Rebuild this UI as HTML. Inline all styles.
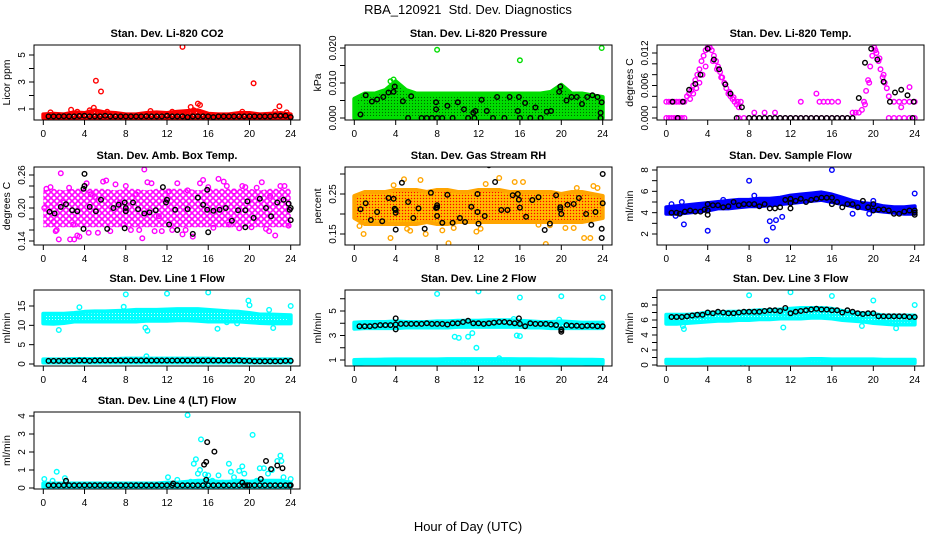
<!DOCTYPE html>
<html><head><meta charset="utf-8"><style>
html,body{margin:0;padding:0;background:#fff;}
svg{display:block;font-family:"Liberation Sans",sans-serif;}
</style></head><body>
<svg id="chart" width="936" height="540" viewBox="0 0 936 540" xmlns="http://www.w3.org/2000/svg">
<defs>
<pattern id="p-red" width="3" height="3" patternUnits="userSpaceOnUse"><rect width="3" height="3" fill="#f00"/><circle cx="1.5" cy="1.5" r="0.6" fill="#fff"/></pattern>
<pattern id="p-green" width="3" height="3" patternUnits="userSpaceOnUse"><rect width="3" height="3" fill="#0d0"/><circle cx="1.5" cy="1.5" r="0.6" fill="#060"/></pattern>
<pattern id="p-mag" width="6" height="6" patternUnits="userSpaceOnUse"><circle cx="0" cy="0" r="2.2" fill="none" stroke="#f0f" stroke-width="1.3"/><circle cx="6" cy="0" r="2.2" fill="none" stroke="#f0f" stroke-width="1.3"/><circle cx="0" cy="6" r="2.2" fill="none" stroke="#f0f" stroke-width="1.3"/><circle cx="6" cy="6" r="2.2" fill="none" stroke="#f0f" stroke-width="1.3"/><circle cx="3" cy="3" r="2.2" fill="none" stroke="#f0f" stroke-width="1.3"/></pattern>
<pattern id="p-orange" width="3" height="3" patternUnits="userSpaceOnUse"><rect width="3" height="3" fill="#ffa500"/><rect x="0" y="0" width="1" height="1" fill="#f00"/><rect x="1.5" y="1.5" width="1" height="1" fill="#ff0"/></pattern>
<pattern id="p-blue" width="3" height="3" patternUnits="userSpaceOnUse"><rect width="3" height="3" fill="#00f"/></pattern>
<pattern id="p-cyan" width="3" height="3" patternUnits="userSpaceOnUse"><rect width="3" height="3" fill="#0ff"/><circle cx="1.5" cy="1.5" r="0.5" fill="#fff"/></pattern>
</defs>
</svg>
<script>
// ---------- DATA ----------
const bandHours=[0,1,2,3,4,5,6,7,8,9,10,11,12,13,14,15,16,17,18,19,20,21,22,23,24];
const halfHours=[0.5,1,1.5,2,2.5,3,3.5,4,4.5,5,5.5,6,6.5,7,7.5,8,8.5,9,9.5,10,10.5,11,11.5,12,12.5,13,13.5,14,14.5,15,15.5,16,16.5,17,17.5,18,18.5,19,19.5,20,20.5,21,21.5,22,22.5,23,23.5,24];
const xTicks=[0,4,8,12,16,20,24];

// CO2
const co2Lo=[0.35,0.35,0.35,0.35,0.35,0.35,0.35,0.35,0.35,0.35,0.35,0.35,0.35,0.35,0.35,0.35,0.35,0.35,0.35,0.35,0.35,0.35,0.35,0.35,0.35];
const co2Hi=[0.6,0.65,0.6,0.75,0.7,0.9,0.75,0.7,0.6,0.6,0.7,0.75,0.7,0.8,0.85,0.9,0.65,0.6,0.6,0.7,0.7,0.6,0.65,0.7,0.6];
const co2PtX=[0.7,2.7,3.3,4.5,4.9,5.1,5.6,6.2,10.4,12.5,13.5,14.3,14.6,15.0,15.2,19.3,20.4,22.5,22.9,23.6];
const co2PtY=[0.75,0.95,0.8,0.9,1.1,3.1,2.3,0.8,0.85,0.8,5.6,1.15,0.9,1.4,1.3,0.8,2.9,0.8,1.2,0.75];
const co2BlkY=[0.45,0.45,0.45,0.47,0.45,0.45,0.48,0.5,0.45,0.45,0.45,0.5,0.45,0.45,0.45,0.45,0.45,0.45,0.45,0.47,0.45,0.45,0.45,0.5,0.45,0.45,0.45,0.4,0.45,0.45,0.45,0.45,0.4,0.45,0.45,0.45,0.45,0.45,0.45,0.45,0.45,0.45,0.45,0.45,0.5,0.5,0.5,0.4];

// Pressure
const prsLo=[0,0,0,0,0,0,0,0,0,0,0,0,0,0,0,0,0,0,0,0,0,0,0,0,0];
const prsHi=[0.0055,0.007,0.007,0.008,0.0105,0.008,0.007,0.007,0.007,0.007,0.007,0.007,0.007,0.007,0.007,0.007,0.007,0.007,0.007,0.0075,0.0095,0.007,0.007,0.0065,0.006];
const prsPtX=[8,16,23.9,3.5,3.8,0.2,0.5];
const prsPtY=[0.0195,0.0165,0.020,0.0105,0.011,0.002,0.004];
const prsBlkX=[0.6,1.1,1.7,2.2,2.8,3.3,3.8,3.9,4.7,5.2,5.5,6.5,7.0,7.5,7.9,7.9,8.0,8.5,9.0,9.5,10.0,10.6,11.0,11.5,11.6,11.7,12.3,12.8,13.4,13.8,14.5,15.0,15.8,15.9,16,16.5,17,17.5,18,18.6,19,19.8,19.9,20.5,21,21.5,22,22.5,23,23.5,23.8,23.9,23.8];
const prsBlkY=[0.001,0.0065,0.0047,0.0053,0.006,0.0073,0.0075,0.009,0.0048,0,0.0062,0,0,0,0.0045,0.0025,0,0,0.0035,0,0.0045,0.0025,0,0.0015,0,0.002,0.0052,0.002,0,0.006,0,0.006,0.002,0.006,0,0.0043,0,0.003,0,0.0018,0.002,0.0075,0.009,0.005,0.006,0.006,0.004,0.006,0.0065,0.006,0.0015,0.0045,0];

// Li-820 Temp
const tmpPtX=[0,0.25,0.5,0.75,1,1.25,1.5,1.75,0,0.25,0.5,0.75,1,1.25,1.5,1.75,2,2.2,2.4,2.6,2.8,3,3.2,3.4,3.6,3.8,4,2.3,2.6,2.9,3.2,3.5,3.8,4.2,4.4,4.6,4.8,5,5.2,5.4,5.6,5.8,6,6.2,6.4,6.6,6.8,7,7.2,4.5,4.9,5.3,5.7,6.1,6.5,6.9,7,7.5,8,8.5,9,9.5,10,10.5,11,11.5,12,12.5,13,13.5,14,14.5,15,15.5,16,16.5,17,17.5,18,8.5,9.5,10.5,13,14.5,14.8,15.2,15.6,16,16.6,18,18.3,18.6,18.9,19.1,19.3,19.5,19.7,19.9,20.1,20.3,20.5,20.7,20.9,21.1,21.3,19.2,19.6,20.2,20.6,21,21.5,22,22.5,23,23.5,24,21.5,22,22.5,23,23.5,24,23.5,22.7];
const tmpPtY=[0.003,0.003,0.003,0.003,0.003,0.003,0.003,0.003,0,0,0,0,0,0,0,0,0.004,0.0045,0.005,0.006,0.007,0.008,0.009,0.0105,0.0115,0.0125,0.013,0.0035,0.0045,0.0055,0.0065,0.008,0.0095,0.013,0.0125,0.0115,0.0105,0.0095,0.0085,0.0075,0.0065,0.0055,0.0045,0.004,0.0035,0.003,0.0025,0.002,0.003,0.0105,0.009,0.0075,0.0062,0.0048,0.0038,0.003,0,0,0,0,0,0,0,0,0,0,0,0,0,0,0,0,0,0,0,0,0,0,0,0.001,0.001,0.001,0.003,0.0045,0.003,0.003,0.003,0.003,0.003,0.001,0.001,0.001,0.0015,0.003,0.005,0.007,0.0095,0.0115,0.013,0.012,0.0105,0.009,0.0075,0.0065,0.0055,0.0025,0.0065,0.0125,0.011,0.008,0.004,0.003,0.003,0.003,0.003,0.003,0,0,0,0,0,0,0.0057,0.002];
const tmpBlkX=[0.6,1.1,1.6,2.2,2.8,3.3,4,4.6,5.1,5.7,6.2,6.8,7.3,8,8.5,9,9.5,10,10.5,11,11.5,12,12.5,13,13.5,14,14.5,15,15.5,16,16.5,17,17.5,18,18.6,19.2,19.8,20.4,21,21.6,22.1,22.7,23.3,23.9,23.8];
const tmpBlkY=[0.003,0,0.003,0.0052,0.0063,0.008,0.0128,0.0108,0.009,0.0062,0.0045,0,0.002,0,0,0,0,0,0,0,0,0,0,0,0,0,0,0,0,0,0,0,0,0,0.0037,0.0102,0.0128,0.0108,0.0067,0.003,0.0047,0.0052,0.0042,0.003,0];

// Amb box temp
const ambLo=[0.165,0.165,0.165,0.165,0.165,0.165,0.165,0.165,0.165,0.165,0.165,0.165,0.165,0.165,0.165,0.165,0.165,0.165,0.165,0.165,0.165,0.165,0.165,0.165,0.165];
const ambHi=[0.232,0.235,0.232,0.235,0.235,0.235,0.235,0.232,0.235,0.235,0.232,0.235,0.235,0.235,0.235,0.232,0.235,0.235,0.235,0.235,0.235,0.232,0.235,0.235,0.235];
const ambPtX=[0.3,0.7,1,1.2,1.5,1.7,2.0,2.5,2.6,3.0,3.3,3.5,4.2,4.6,5.0,5.3,5.8,6.5,7.0,7.4,8,8.5,9.0,9.6,9.8,10.1,10.5,11.2,11.5,12.2,12.5,13,13.5,14,14.5,15.5,16,16.5,17,17.5,18,18.5,19,19.6,20.2,20.7,21.2,21.6,22,22.5,23,23.4,23.8,0.1,1.3,2.9,4.4,6.1,7.8,9.3,10.8,13.8,15.2,17.8,19.3,21.9];
const ambPtY=[0.235,0.238,0.175,0.158,0.143,0.263,0.21,0.237,0.143,0.143,0.15,0.148,0.245,0.225,0.22,0.155,0.248,0.158,0.243,0.21,0.24,0.16,0.225,0.145,0.27,0.247,0.245,0.185,0.158,0.23,0.16,0.245,0.152,0.232,0.148,0.251,0.238,0.164,0.253,0.248,0.17,0.23,0.163,0.238,0.165,0.237,0.247,0.162,0.222,0.15,0.24,0.24,0.168,0.2,0.16,0.17,0.155,0.25,0.17,0.16,0.158,0.16,0.245,0.24,0.24,0.158];
const ambBlkX=[0.6,1.1,1.7,2.2,2.8,3.3,3.9,4.0,4.0,3.9,4.5,5.1,5.6,6.2,6.8,7.3,7.9,7.9,8.0,8.0,8.7,9.2,9.8,10.3,10.9,11.6,11.9,12.0,12.2,12.8,13.0,14.0,14.5,15.0,15.5,15.9,16.0,15.9,16.5,17.1,17.7,18.3,18.9,19.6,19.6,19.8,20.4,21.0,21.6,22.1,22.7,23.3,23.8,23.9,24,24];
const ambBlkY=[0.193,0.19,0.202,0.207,0.196,0.194,0.235,0.24,0.262,0.162,0.202,0.194,0.215,0.162,0.2,0.206,0.21,0.163,0.2,0.194,0.21,0.198,0.19,0.192,0.196,0.238,0.21,0.215,0.17,0.197,0.16,0.198,0.153,0.219,0.206,0.197,0.156,0.233,0.195,0.197,0.2,0.177,0.196,0.196,0.165,0.212,0.182,0.217,0.2,0.185,0.21,0.215,0.208,0.197,0.2,0.178];

// Gas stream RH
const rhLo=[0.19,0.175,0.175,0.175,0.175,0.175,0.175,0.18,0.175,0.175,0.18,0.18,0.18,0.18,0.18,0.18,0.18,0.18,0.18,0.18,0.18,0.18,0.18,0.185,0.19];
const rhHi=[0.245,0.255,0.255,0.255,0.26,0.26,0.26,0.255,0.26,0.26,0.255,0.255,0.26,0.26,0.26,0.255,0.255,0.255,0.255,0.255,0.25,0.255,0.255,0.25,0.245];
const rhPtX=[0.5,0.9,3.3,3.5,3.8,4.8,5.1,5.4,6.4,6.9,8.5,9.1,9.6,11.8,12.2,12.7,14.0,15.5,16.3,17.8,18.5,18.9,20.4,21.2,21.5,22.2,22.8,23.1,23.5];
const rhPtY=[0.17,0.15,0.18,0.14,0.272,0.287,0.163,0.158,0.285,0.15,0.159,0.127,0.165,0.156,0.163,0.275,0.29,0.28,0.28,0.173,0.125,0.172,0.165,0.165,0.265,0.14,0.14,0.27,0.265];
const rhBlkX=[0.6,1.1,1.6,2.2,2.7,3.3,3.8,4.0,3.9,4.0,4.0,4.6,5.2,5.7,6.2,6.8,7.4,7.9,8,8.0,8.0,8.5,9.0,9.5,10.2,10.7,11.3,11.9,11.9,12,12.6,13.0,13.6,14.2,14.8,15.3,15.8,15.9,16.0,16.6,17.2,17.8,18.4,18.9,19.5,19.9,20.0,19.9,20.6,21.2,21.7,22.4,22.9,23.3,23.9,23.9,24,24.0];
const rhBlkY=[0.212,0.227,0.185,0.205,0.182,0.24,0.238,0.21,0.213,0.203,0.161,0.278,0.23,0.19,0.214,0.163,0.253,0.215,0.222,0.217,0.195,0.178,0.248,0.178,0.19,0.18,0.218,0.25,0.205,0.176,0.195,0.322,0.28,0.21,0.21,0.247,0.25,0.236,0.216,0.193,0.235,0.242,0.16,0.176,0.247,0.212,0.2,0.217,0.223,0.225,0.24,0.2,0.173,0.205,0.163,0.14,0.3,0.227];

// Sample flow
const sfLo=[3.9,3.9,4.0,4.1,4.2,4.4,4.4,4.5,4.6,4.6,4.7,4.8,4.9,5.0,5.1,5.2,5.0,4.8,4.6,4.4,4.2,4.1,4.0,3.9,3.9];
const sfHi=[4.5,4.6,4.7,4.8,4.9,5.0,5.1,5.2,5.2,5.3,5.3,5.4,5.6,5.7,5.8,5.9,5.7,5.4,5.1,4.9,4.8,4.6,4.5,4.5,4.6];
const sfPtX=[0.5,1.5,1.7,4,8,9.7,10,10.3,10.6,11.2,16,8.5,18,20,24,0.9,5.5,19.6];
const sfPtY=[4.8,5.0,2.9,2.3,7.0,1.4,3.2,2.6,3.3,3.6,8.0,5.6,3.9,5.1,5.8,3.7,5.2,3.9];
const sfBlkX=[0.5,1,1.3,1.8,2.3,2.8,3.3,3.7,4,4,4,4.5,5,5.5,6,6.5,7,7.5,8,8.5,9,9.5,10,10.5,11,11.5,12,12,12,12.5,13,13.5,14,14.5,15,15.5,16,16,16.5,17,17.5,18,18.5,19,19.5,20,20,20.5,21,21.5,22,22.5,23,23.5,24,24,24];
const sfBlkY=[4.0,4.0,3.9,4.1,4.2,4.1,4.1,4.3,4.8,3.8,4.2,4.7,4.7,4.5,4.6,5.0,4.7,4.8,4.8,4.8,4.6,4.8,4.4,4.4,4.5,5.2,4.4,4.9,5.3,5.1,5.3,5.0,5.2,5.3,5.4,5.4,5.4,4.8,5.0,4.5,4.8,4.8,4.5,5.1,4.5,4.8,4.2,4.3,4.3,4.2,3.9,3.9,4.1,4.2,4.0,3.8,4.2];

// Line 1 flow
const l1Lo=[10.5,10.4,10.6,11,11,11,11,11,11,11,11.2,11.2,11.2,11.3,11.3,11.2,11,11,11,11,10.8,10.6,10.5,10.5,10.5];
const l1Hi=[13,13,13,13.2,13.5,13.6,13.6,13.7,13.8,14,14,14,14.1,14.2,14.2,14.2,14,13.8,13.6,13.5,13.2,12.8,12.8,12.7,12.6];
const l1Lo2=[0.4,0.4,0.4,0.4,0.4,0.4,0.4,0.4,0.4,0.4,0.4,0.4,0.4,0.4,0.4,0.4,0.4,0.4,0.4,0.4,0.4,0.4,0.4,0.4,0.4];
const l1Hi2=[1.2,1.2,1.2,1.3,1.3,1.3,1.3,1.3,1.4,1.4,1.4,1.4,1.4,1.4,1.4,1.4,1.4,1.3,1.3,1.3,1.2,1.2,1.2,1.2,1.2];
const l1PtX=[8,12,16,7.8,3.5,1.5,9.9,10.1,16.9,19.9,20,24,22.3,21.9,0.1,10,18.8,17.8];
const l1PtY=[18,18.2,18.5,14.8,14.7,8.8,9.4,8.6,9.1,16.4,15.2,15,9.3,14,0.8,2,10.5,10.8];
const l1BlkY=[0.8,0.8,0.8,0.8,0.8,0.8,0.9,0.9,0.8,0.9,0.9,0.9,0.9,0.9,0.9,0.9,0.9,0.9,0.9,0.9,0.9,0.9,0.9,0.9,0.9,0.9,0.9,0.9,0.9,0.9,0.9,0.9,0.9,0.9,0.9,0.9,0.9,0.9,0.8,0.8,0.7,0.7,0.7,0.7,0.7,0.7,0.8,0.8];

// Line 2 flow
const l2Lo=[3.55,3.6,3.6,3.6,3.6,3.65,3.65,3.65,3.65,3.65,3.7,3.7,3.7,3.7,3.7,3.7,3.7,3.65,3.65,3.6,3.6,3.6,3.6,3.6,3.6];
const l2Hi=[4.05,4.1,4.1,4.1,4.15,4.1,4.1,4.1,4.15,4.15,4.2,4.2,4.2,4.25,4.25,4.25,4.2,4.15,4.1,4.1,4.15,4.1,4.05,4.05,4.05];
const l2Lo2=[0.7,0.72,0.72,0.72,0.74,0.74,0.74,0.74,0.74,0.74,0.74,0.74,0.74,0.74,0.74,0.74,0.74,0.74,0.74,0.74,0.72,0.72,0.72,0.7,0.7];
const l2Hi2=[1.0,1.02,1.02,1.04,1.05,1.05,1.05,1.05,1.05,1.07,1.07,1.07,1.07,1.07,1.07,1.07,1.06,1.06,1.05,1.05,1.03,1.03,1.02,1.02,1.0];
const l2PtX=[8,12,16,20,24,9.7,10.1,11,11.4,11.8,15.7,16,14,15.4,19.8];
const l2PtY=[6.4,6.6,6.1,6.2,6.1,2.9,2.8,2.9,3.2,2.0,3.0,2.95,1.15,4.35,4.3];
const l2BlkY=[3.75,3.75,3.75,3.8,3.85,3.85,3.85,3.9,3.95,3.95,3.95,3.95,3.95,4.0,3.95,3.95,3.95,3.9,4.0,4.0,4.1,4.2,4.0,4.0,3.95,4.0,4.05,4.1,4.1,4.05,4.0,3.95,3.75,4.0,3.95,3.95,3.95,3.9,3.85,3.45,3.85,3.8,3.8,3.75,3.8,3.8,3.75,3.75];
const l2ExX=[4,4,15.9,20,20];
const l2ExY=[4.4,3.5,4.4,3.3,3.5];

// Line 3 flow
const l3Lo=[5.5,5.5,5.6,5.7,5.8,5.9,5.9,6,6,6.1,6.1,6.2,6.2,6.2,6.3,6.3,6.2,6,5.9,5.8,5.6,5.5,5.4,5.4,5.4];
const l3Hi=[6.7,6.7,6.7,6.8,7.0,7.0,7.1,7.1,7.2,7.3,7.3,7.4,7.5,7.6,7.6,7.6,7.5,7.2,7.0,6.9,6.8,6.6,6.6,6.6,6.6];
const l3Lo2=[0.25,0.25,0.25,0.25,0.25,0.25,0.25,0.25,0.25,0.25,0.25,0.25,0.25,0.25,0.25,0.25,0.25,0.25,0.25,0.25,0.25,0.25,0.25,0.25,0.25];
const l3Hi2=[0.7,0.7,0.7,0.7,0.75,0.75,0.75,0.75,0.75,0.75,0.75,0.75,0.75,0.75,0.8,0.8,0.75,0.75,0.75,0.75,0.75,0.7,0.7,0.7,0.7];
const l3PtX=[8,12,16,20,24,1.7,11.3,18.9,22.2,1.6,7.4];
const l3PtY=[9.3,9.7,9.2,8.6,8.0,4.8,5.0,5.2,4.9,5.2,0.1];
const l3BlkY=[6.4,6.4,6.4,6.5,6.6,6.7,6.7,7.0,6.9,7.1,7.0,6.9,6.9,7.0,7.1,7.1,7.1,7.1,7.2,7.3,7.3,7.2,7.6,6.9,7.1,7.2,7.3,7.4,7.5,7.4,7.4,7.3,7.3,7.0,7.3,7.1,6.9,6.8,6.9,6.9,6.5,6.5,6.5,6.5,6.5,6.5,6.4,6.4];

// Line 4 flow
const l4Lo=[0.05,0.05,0.05,0.05,0.05,0.05,0.05,0.05,0.05,0.05,0.05,0.05,0.05,0.05,0.05,0.05,0.05,0.05,0.05,0.05,0.05,0.05,0.05,0.05,0.05];
const l4Hi=[0.25,0.25,0.25,0.25,0.25,0.25,0.25,0.25,0.25,0.25,0.25,0.25,0.3,0.3,0.35,0.4,0.4,0.35,0.35,0.4,0.35,0.4,0.4,0.4,0.3];
const l4PtX=[0.1,0.9,1.3,2.1,14,15.3,14.6,14.8,15,15.2,15.7,16,17,18,18.2,18.5,19,19.3,19.5,20.3,20.7,21,21.4,21.8,22.2,22.7,23,23.1,23.3,24,12.1,13,14.3,16.4,17.4];
const l4PtY=[0.5,0.4,0.9,0.55,4.05,2.7,1.35,1.6,0.8,1.0,0.75,0.7,0.7,1.35,0.9,0.6,0.95,1.2,0.8,2.95,0.4,1.1,1.1,0.8,1.0,1.5,1.8,1.5,0.6,0.5,0.6,0.45,0.35,0.4,0.3];
const l4BlkY=[0.15,0.15,0.15,0.15,0.15,0.15,0.15,0.15,0.15,0.15,0.15,0.15,0.15,0.15,0.15,0.15,0.15,0.15,0.15,0.15,0.15,0.15,0.15,0.15,0.15,0.15,0.15,0.15,0.15,0.15,0.15,0.15,0.15,0.15,0.15,0.15,0.15,0.15,0.15,0.15,0.15,0.15,0.15,0.15,0.15,0.15,0.15,0.15];
const l4ExX=[2.2,12.6,15.6,15.8,15.8,15.9,16.6,19.3,19.8,21.1,21.6,22.1,22.7,23.2,23.9];
const l4ExY=[0.4,0.25,1.3,1.45,0.45,2.55,2.02,0.3,0.15,0.5,1.5,1.05,1.25,1.1,0.15];

// ---------- RENDER ----------
const NS='http://www.w3.org/2000/svg';
const svg=document.getElementById('chart');
const colL=[34,345,657], colR=[300,612,924];
const rowT=[45,167,290,412], rowB=[120,245,366,489];
function mk(tag,attrs,parent){const e=document.createElementNS(NS,tag);for(const k in attrs)e.setAttribute(k,attrs[k]);(parent||svg).appendChild(e);return e;}
function xScale(col){const x0=colL[col]+9.3, k=(colR[col]-colL[col]-18.6)/24;return h=>x0+h*k;}
function yScale(v1,p1,v2,p2){const k=(p2-p1)/(v2-v1);return v=>p1+(v-v1)*k;}

function panel(o){
  const g=mk('g',{});
  
  
  const L=colL[o.col],R=colR[o.col],T=rowT[o.row],B=rowB[o.row];
  const X=xScale(o.col), Y=yScale(o.yr[0],o.yr[1],o.yr[2],o.yr[3]);
  const clip=mk('clipPath',{id:'c-'+o.name},g);mk('rect',{x:L,y:T,width:R-L,height:B-T},clip);
  const plot=mk('g',{'clip-path':'url(#c-'+o.name+')'},g);
  
  
  const bs=(o.bandStroke===undefined)?4:o.bandStroke;
  (o.bands||[]).forEach(b=>{
    let d='';bandHours.forEach((h,i)=>{d+=(i?'L':'M')+X(h).toFixed(1)+' '+Y(b.hi[i]).toFixed(1);});
    for(let i=bandHours.length-1;i>=0;i--)d+='L'+X(bandHours[i]).toFixed(1)+' '+Y(b.lo[i]).toFixed(1);
    const p=mk('path',{d:d+'Z',fill:'url(#'+o.pat+')',stroke:bs?o.color:'none','stroke-width':bs,'stroke-linejoin':'round'},plot);
    
    
  });
  const pts=(xs,ys,col,nm)=>xs.forEach((x,i)=>{
    const c=mk('circle',{cx:X(x).toFixed(1),cy:Y(ys[i]).toFixed(1),r:2.3,fill:'none',stroke:col,'stroke-width':1.4},plot);
    
    
  });
  (o.pts||[]).forEach(s=>pts(s[0],s[1],o.color,o.name+'-point'));
  (o.blk||[]).forEach(s=>pts(s[0],s[1],'#000',o.name+'-mean-point'));
  const box=mk('rect',{x:L,y:T,width:R-L,height:B-T,fill:'none',stroke:'#000','stroke-width':1},g);
  
  
  xTicks.forEach(t=>{
    mk('line',{x1:X(t),x2:X(t),y1:B,y2:B+5,stroke:'#000'},g);
    const tx=mk('text',{x:X(t),y:B+17,'font-size':10,'text-anchor':'middle'},g);tx.textContent=t;
    
    
  });
  o.yticks.forEach(t=>{
    const y=Y(t);mk('line',{x1:L-5,x2:L,y1:y,y2:y,stroke:'#000'},g);
    const lab=o.ylabels.indexOf(t)>=0;
    if(lab){const tx=mk('text',{x:L-9,y:y,'font-size':10,'text-anchor':'middle',transform:'rotate(-90 '+(L-9)+' '+y+')'},g);tx.textContent=o.fmt?o.fmt(t):t;
      
      }
  });
  const yc=(T+B)/2;
  const yt=mk('text',{x:L-24,y:yc,'font-size':10.5,'text-anchor':'middle',transform:'rotate(-90 '+(L-24)+' '+yc+')'},g);yt.textContent=o.ylab;
  
  
  const tt=mk('text',{x:(L+R)/2,y:T-8,'font-size':11,'font-weight':'bold','text-anchor':'middle'},g);tt.textContent=o.title;
  
  
}

panel({name:'co2',col:0,row:0,title:'Stan. Dev. Li-820 CO2',ylab:'Licor ppm',color:'#f00',pat:'p-red',yr:[1,109,5,55],yticks:[1,2,3,4,5],ylabels:[1,3,5],
  bands:[{lo:co2Lo,hi:co2Hi}],pts:[[co2PtX,co2PtY]],blk:[[halfHours,co2BlkY]]});
panel({name:'pressure',col:1,row:0,title:'Stan. Dev. Li-820 Pressure',ylab:'kPa',color:'#0d0',pat:'p-green',yr:[0,118,0.02,48],yticks:[0,0.005,0.01,0.015,0.02],ylabels:[0,0.01,0.02],fmt:t=>t.toFixed(3),
  bands:[{lo:prsLo,hi:prsHi}],pts:[[prsPtX,prsPtY]],blk:[[prsBlkX,prsBlkY]]});
panel({name:'li820-temp',col:2,row:0,title:'Stan. Dev. Li-820 Temp.',ylab:'degrees C',color:'#f0f',pat:'p-mag',yr:[0,118,0.012,53],yticks:[0,0.002,0.004,0.006,0.008,0.01,0.012],ylabels:[0,0.006,0.012],fmt:t=>t.toFixed(3),
  pts:[[tmpPtX,tmpPtY]],blk:[[tmpBlkX,tmpBlkY]]});
panel({name:'amb-box-temp',col:0,row:1,title:'Stan. Dev. Amb. Box Temp.',ylab:'degrees C',color:'#f0f',pat:'p-mag',bandStroke:0,yr:[0.14,241,0.26,175],yticks:[0.14,0.16,0.18,0.2,0.22,0.24,0.26],ylabels:[0.14,0.2,0.26],fmt:t=>t.toFixed(2),
  bands:[{lo:ambLo,hi:ambHi}],pts:[[ambPtX,ambPtY]],blk:[[ambBlkX,ambBlkY]]});
panel({name:'gas-stream-rh',col:1,row:1,title:'Stan. Dev. Gas Stream RH',ylab:'percent',color:'#ffa500',pat:'p-orange',yr:[0.15,234,0.25,194],yticks:[0.15,0.2,0.25,0.3],ylabels:[0.15,0.25],fmt:t=>t.toFixed(2),
  bands:[{lo:rhLo,hi:rhHi}],pts:[[rhPtX,rhPtY]],blk:[[rhBlkX,rhBlkY]]});
panel({name:'sample-flow',col:2,row:1,title:'Stan. Dev. Sample Flow',ylab:'ml/min',color:'#00f',pat:'p-blue',yr:[2,234,8,170],yticks:[2,3,4,5,6,7,8],ylabels:[2,4,6,8],
  bands:[{lo:sfLo,hi:sfHi}],pts:[[sfPtX,sfPtY]],blk:[[sfBlkX,sfBlkY]]});
panel({name:'line1-flow',col:0,row:2,title:'Stan. Dev. Line 1 Flow',ylab:'ml/min',color:'#0ff',pat:'p-cyan',yr:[0,364,15,306],yticks:[0,5,10,15],ylabels:[0,5,10,15],
  bands:[{lo:l1Lo,hi:l1Hi},{lo:l1Lo2,hi:l1Hi2}],pts:[[l1PtX,l1PtY]],blk:[[halfHours,l1BlkY]]});
panel({name:'line2-flow',col:1,row:2,title:'Stan. Dev. Line 2 Flow',ylab:'ml/min',color:'#0ff',pat:'p-cyan',yr:[1,360,5,311],yticks:[1,2,3,4,5,6],ylabels:[1,3,5],
  bands:[{lo:l2Lo,hi:l2Hi},{lo:l2Lo2,hi:l2Hi2}],pts:[[l2PtX,l2PtY]],blk:[[halfHours,l2BlkY],[l2ExX,l2ExY]]});
panel({name:'line3-flow',col:2,row:2,title:'Stan. Dev. Line 3 Flow',ylab:'ml/min',color:'#0ff',pat:'p-cyan',yr:[0,365,8,305],yticks:[0,1,2,3,4,5,6,7,8,9],ylabels:[0,2,4,6,8],
  bands:[{lo:l3Lo,hi:l3Hi},{lo:l3Lo2,hi:l3Hi2}],pts:[[l3PtX,l3PtY]],blk:[[halfHours,l3BlkY]]});
panel({name:'line4-flow',col:0,row:3,title:'Stan. Dev. Line 4 (LT) Flow',ylab:'ml/min',color:'#0ff',pat:'p-cyan',yr:[0,488,4,416],yticks:[0,1,2,3,4],ylabels:[0,1,2,3,4],
  bands:[{lo:l4Lo,hi:l4Hi}],pts:[[l4PtX,l4PtY]],blk:[[halfHours,l4BlkY],[l4ExX,l4ExY]]});

const mt=mk('text',{x:468,y:14,'font-size':13,'text-anchor':'middle'});mt.textContent='RBA_120921  Std. Dev. Diagnostics';


mt.setAttribute('xml:space','preserve');mt.style.whiteSpace='pre';
const xl=mk('text',{x:468,y:531,'font-size':13,'text-anchor':'middle'});xl.textContent='Hour of Day (UTC)';


</script>
</body></html>
